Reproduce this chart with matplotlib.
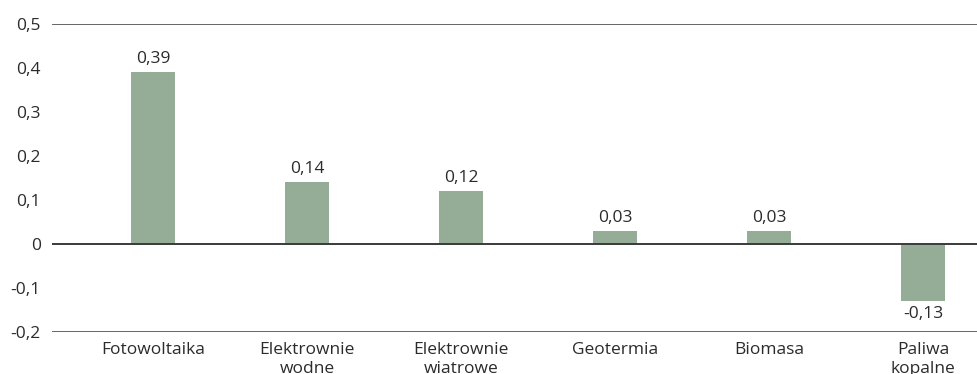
import matplotlib.pyplot as plt

# ============================================================
# DATA
# ============================================================

categories = ["Fotowoltaika", "Elektrownie\nwodne", "Elektrownie\nwiatrowe",
              "Geotermia", "Biomasa", "Paliwa\nkopalne"]
values = [0.39, 0.14, 0.12, 0.03, 0.03, -0.13]
y_ticks = [-0.2, -0.1, 0, 0.1, 0.2, 0.3, 0.4, 0.5]

BAR_COLOR = "#95ad97"
TEXT_COLOR = "#2b2b2b"
FS = 12.5

plt.rcParams["font.family"] = ["Open Sans", "DejaVu Sans"]

# ============================================================
# PLOT
# ============================================================

fig = plt.figure(figsize=(9.77, 3.74), dpi=100)
ax = fig.add_axes([52 / 977, 1 - 332 / 374, 1 - 52 / 977, (332 - 24) / 374])

x = list(range(len(categories)))
ax.bar(x, values, width=0.29, color=BAR_COLOR, zorder=2)

for xi, v in zip(x, values):
    label = f"{v:.2f}".replace(".", ",")
    if v >= 0:
        ax.text(xi, v + 0.012, label, ha="center", va="bottom",
                fontsize=FS, color=TEXT_COLOR)
    else:
        ax.text(xi, v - 0.012, label, ha="center", va="top",
                fontsize=FS, color=TEXT_COLOR)

ax.set_xlim(-0.656, 5.35)
ax.set_ylim(-0.2, 0.5)

# horizontal reference lines
ax.axhline(0.5, color="#5a5a5a", lw=1.3, zorder=1)
ax.axhline(0, color="#3a3a3a", lw=1.4, zorder=3)
ax.axhline(-0.2, color="#5a5a5a", lw=1.3, zorder=1)

ax.set_yticks(y_ticks)
ax.set_yticklabels([("0" if t == 0 else f"{t:.1f}".replace(".", ",")) for t in y_ticks])
ax.set_xticks(x)
ax.set_xticklabels(categories, linespacing=1.25)

ax.tick_params(axis="both", length=0, labelsize=FS, colors=TEXT_COLOR)
ax.tick_params(axis="y", pad=8)
ax.tick_params(axis="x", pad=7)

for s in ax.spines.values():
    s.set_visible(False)

fig.savefig("out.png", dpi=100)
